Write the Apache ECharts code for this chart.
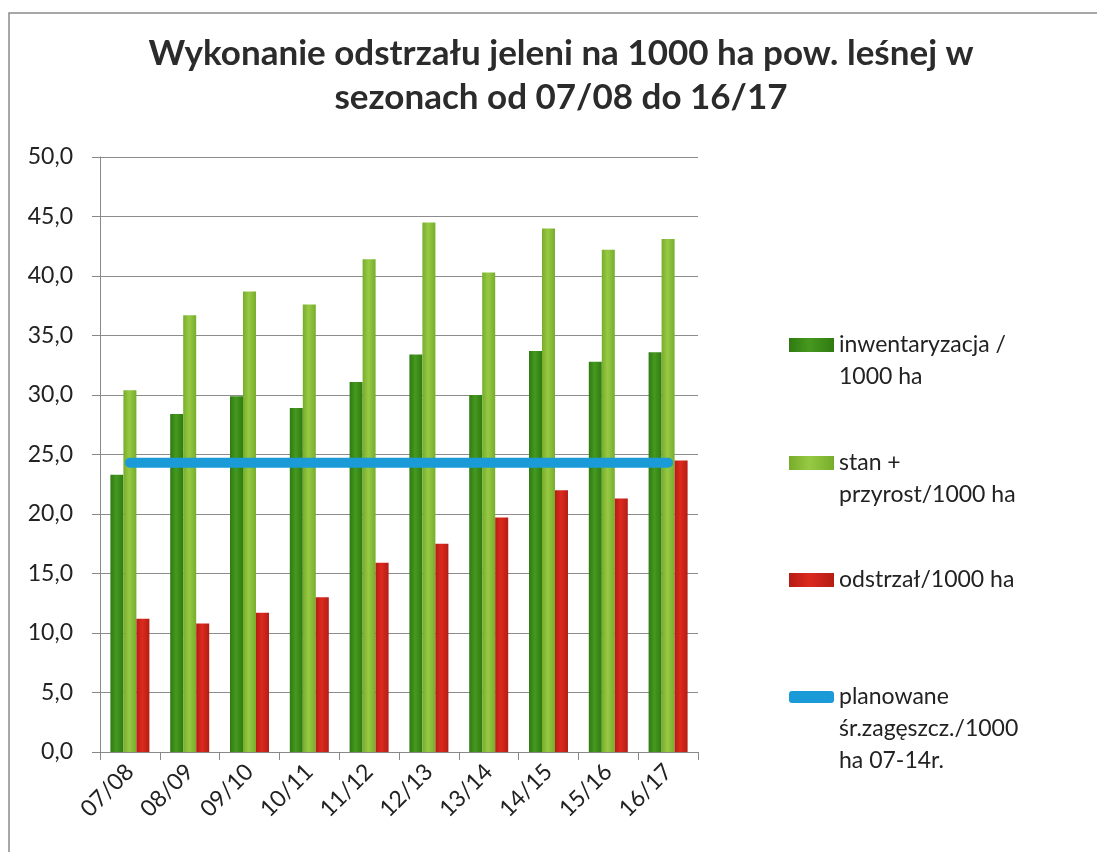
<!DOCTYPE html>
<html>
<head>
<meta charset="utf-8">
<script src="https://cdn.jsdelivr.net/npm/echarts@6/dist/echarts.min.js"></script>
<style>
  html, body { margin: 0; padding: 0; background: #fff; }
  #chart_main { width: 1097px; height: 852px; }
</style>
</head>
<body>
<div id="chart_main"></div>
<script>
var seasons = ['07/08', '08/09', '09/10', '10/11', '11/12', '12/13', '13/14', '14/15', '15/16', '16/17']
var inwentaryzacja = [23.3, 28.4, 29.9, 28.9, 31.1, 33.4, 30.0, 33.7, 32.8, 33.6]
var stanPrzyrost = [30.4, 36.7, 38.7, 37.6, 41.4, 44.5, 40.3, 44.0, 42.2, 43.1]
var odstrzal = [11.2, 10.8, 11.7, 13.0, 15.9, 17.5, 19.7, 22.0, 21.3, 24.5]
var planowane = [24.3, 24.3, 24.3, 24.3, 24.3, 24.3, 24.3, 24.3, 24.3, 24.3]
var yTicks = [0, 5, 10, 15, 20, 25, 30, 35, 40, 45, 50]

var names = [
  'inwentaryzacja /\n1000 ha',
  'stan +\nprzyrost/1000 ha',
  'odstrzał/1000 ha',
  'planowane\nśr.zagęszcz./1000\nha 07-14r.'
]

var FONT = 'Lato'
var LH = 32

function barColor (edge, mid) {
  return new echarts.graphic.LinearGradient(0, 0, 1, 0, [
    { offset: 0, color: edge },
    { offset: 0.45, color: mid },
    { offset: 1, color: edge }
  ])
}

// one legend per item, so that the gaps can follow the picture.
// text is centred on the icon, so blank lines are put in front
// to bring the first line level with the icon
function legendFor (name, iconCenter, icon, itemHeight) {
  var lines = name.split('\n').length
  var blockH = (2 * lines - 1) * LH
  return {
    data: [{ name: name, icon: icon }],
    left: 789,
    top: iconCenter - blockH / 2,
    padding: 0,
    itemWidth: 45,
    itemHeight: itemHeight,
    itemGap: 0,
    selectedMode: false,
    formatter: function (n) {
      var pre = ''
      for (var i = 1; i < lines; i++) pre += ' \n'
      return pre + n
    },
    textStyle: {
      fontFamily: FONT,
      fontSize: 23,
      color: '#222',
      lineHeight: LH
    }
  }
}

var chart = echarts.init(document.getElementById('chart_main'))

chart.setOption({
  animation: false,
  backgroundColor: '#fff',
  title: {
    text: 'Wykonanie odstrzału jeleni na 1000 ha pow. leśnej w\nsezonach od 07/08 do 16/17',
    left: 561,
    top: 32,
    padding: 0,
    textAlign: 'center',
    textStyle: {
      fontFamily: FONT,
      fontSize: 35,
      fontWeight: 'bold',
      color: '#2b2b2b',
      lineHeight: 44
    }
  },
  graphic: [{
    type: 'rect',
    silent: true,
    shape: { x: 9, y: 13, width: 1100, height: 900 },
    style: { fill: 'none', stroke: '#8a8a8a', lineWidth: 1.5 }
  }],
  legend: [
    legendFor(names[0], 345, 'rect', 14),
    legendFor(names[1], 463, 'rect', 14),
    legendFor(names[2], 580, 'rect', 14),
    legendFor(names[3], 697, 'roundRect', 12)
  ],
  grid: {
    left: 100,
    right: 399,
    top: 157,
    bottom: 100
  },
  xAxis: {
    type: 'category',
    data: seasons,
    axisLine: { lineStyle: { color: '#888', width: 1 } },
    axisTick: { show: true, length: 8, lineStyle: { color: '#888' } },
    axisLabel: {
      rotate: 45,
      margin: 16,
      fontFamily: FONT,
      fontSize: 23,
      color: '#222',
      interval: 0
    }
  },
  yAxis: {
    type: 'value',
    min: yTicks[0],
    max: yTicks[yTicks.length - 1],
    interval: yTicks[1] - yTicks[0],
    axisLine: { show: true, lineStyle: { color: '#888', width: 1 } },
    axisTick: { show: true, length: 8, lineStyle: { color: '#888' } },
    splitLine: { lineStyle: { color: '#8c8c8c', width: 1 } },
    axisLabel: {
      margin: 27,
      fontFamily: FONT,
      fontSize: 23,
      color: '#222',
      formatter: function (v) { return v.toFixed(1).replace('.', ',') }
    }
  },
  series: [
    {
      name: names[0],
      type: 'bar',
      data: inwentaryzacja,
      barWidth: 13,
      barGap: '0%',
      itemStyle: { color: barColor('#2f7a12', '#46991f') }
    },
    {
      name: names[1],
      type: 'bar',
      data: stanPrzyrost,
      barWidth: 13,
      barGap: '0%',
      itemStyle: { color: barColor('#77ad2c', '#97c943') }
    },
    {
      name: names[2],
      type: 'bar',
      data: odstrzal,
      barWidth: 13,
      barGap: '0%',
      itemStyle: { color: barColor('#b51d14', '#dc2a1f') }
    },
    {
      name: names[3],
      type: 'line',
      data: planowane,
      symbol: 'none',
      z: 5,
      itemStyle: { color: '#1b9ad8' },
      lineStyle: { color: '#1b9ad8', width: 10, cap: 'round' }
    }
  ]
})
</script>
</body>
</html>
